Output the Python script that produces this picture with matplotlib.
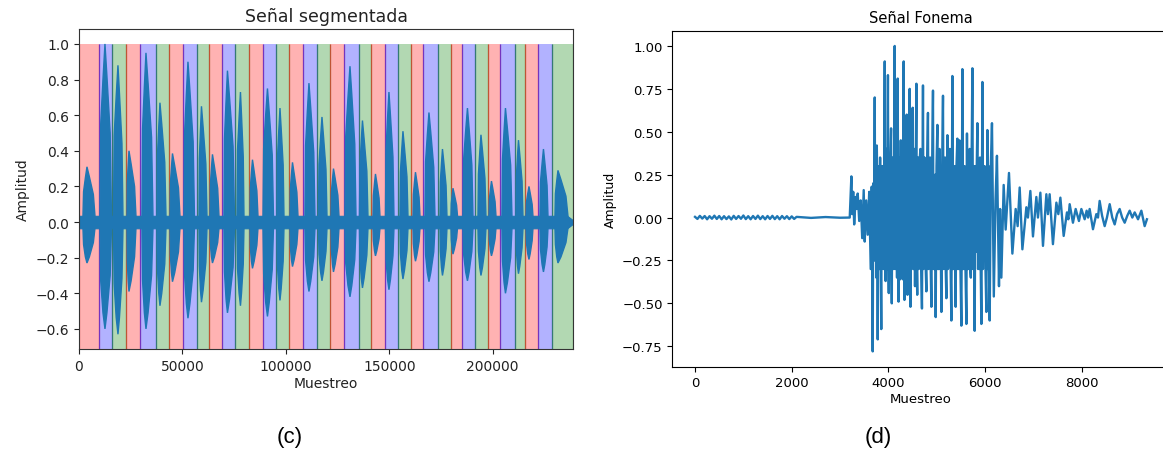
import matplotlib
matplotlib.use('Agg')
import matplotlib.pyplot as plt

# ---- (c) segmented signal ----
# segment boundaries in samples, colours cycle red / blue / green
seg_bounds = [0, 9670, 16100, 22570, 29630, 37080, 43510, 50420, 56900, 62940,
              69270, 75650, 82180, 89090, 95090, 101520, 108430, 114910, 121340,
              128250, 135450, 141300, 147780, 154210, 160640, 166440, 173400,
              179830, 185150, 191430, 197720, 203520, 210770, 215600, 222030,
              228510, 239050]
seg_colors = ['r', 'b', 'g']

# each syllable burst: onset, peak, offset (samples), max and min amplitude
burst_on = [1930, 10150, 16680, 23200, 30450, 37710, 43990, 50760, 58010, 63330,
            70090, 76380, 82660, 88950, 95710, 101990, 109250, 115770, 121820,
            128590, 135600, 142120, 148160, 155170, 161460, 167260, 174510,
            179830, 185630, 192880, 198190, 204480, 211250, 216080, 222850, 230100]
burst_pk = [3870, 12570, 18850, 24170, 32390, 39150, 45200, 52690, 59220, 64530,
            71780, 78070, 83870, 91120, 97170, 103210, 111180, 117470, 123030,
            131010, 137040, 143330, 149850, 156620, 162670, 169190, 175720,
            180800, 187800, 194330, 199400, 206170, 212460, 217530, 224540, 231550]
burst_off = [7730, 15710, 21270, 27550, 35770, 42060, 48820, 55830, 61880, 67680,
             75170, 79760, 86530, 94020, 99100, 105870, 114080, 119890, 125690,
             133910, 139700, 145500, 152270, 159040, 164840, 172090, 177890,
             182980, 190460, 196740, 201580, 209310, 214630, 219460, 226720, 236380]
burst_top = [0.31, 1.00, 0.88, 0.40, 0.95, 0.67, 0.385, 0.90, 0.65, 0.38,
             0.85, 0.73, 0.35, 0.75, 0.64, 0.335, 0.78, 0.59, 0.30,
             0.875, 0.57, 0.27, 0.73, 0.51, 0.28, 0.615, 0.41,
             0.19, 0.64, 0.49, 0.23, 0.64, 0.46, 0.20, 0.41, 0.29]
burst_bot = [-0.23, -0.60, -0.63, -0.39, -0.60, -0.47, -0.335, -0.54, -0.45, -0.23,
             -0.51, -0.47, -0.26, -0.53, -0.44, -0.25, -0.39, -0.33, -0.28,
             -0.42, -0.37, -0.19, -0.38, -0.32, -0.22, -0.335, -0.30,
             -0.18, -0.33, -0.30, -0.19, -0.40, -0.29, -0.21, -0.28, -0.23]

# ---- (d) phoneme signal, turning points (sample, amplitude) ----
quiet_x = [0, 50, 100, 150, 200, 250, 300, 350, 400, 450, 500, 550, 600, 650,
           700, 750, 800, 850, 900, 950, 1000, 1050, 1100, 1150, 1200, 1250,
           1300, 1350, 1400, 1450, 1500, 1550, 1600, 1650, 1700, 1750, 1800,
           1850, 1900, 1950, 2000, 2050, 2100, 2400, 2700, 3000, 3200]
quiet_y = [0.004, -0.008, 0.010, -0.006, 0.009, -0.010, 0.008, -0.007, 0.011,
           -0.008, 0.009, -0.010, 0.008, -0.009, 0.007, -0.011, 0.010, -0.008,
           0.009, -0.007, 0.012, -0.009, 0.008, -0.010, 0.009, -0.008, 0.011,
           -0.009, 0.008, -0.010, 0.009, -0.008, 0.010, -0.009, 0.008, -0.010,
           0.009, -0.007, 0.008, -0.009, 0.007, -0.008, 0.004, -0.002, 0.003,
           -0.001, 0.0]

onset_x = [3234, 3251, 3272, 3292, 3323, 3344, 3365, 3396, 3427, 3458, 3489,
           3510, 3541, 3572, 3603, 3634, 3655]
onset_y = [0.24, 0.02, 0.15, -0.04, 0.12, 0.05, 0.14, -0.02, 0.10, -0.12, 0.16,
           -0.14, 0.10, -0.10, 0.15, -0.30, 0.18]

loud_x = [3675, 3688, 3700, 3717, 3728, 3740, 3750, 3760, 3770, 3779,
          3790, 3800, 3810, 3818, 3828, 3840, 3852, 3862, 3875, 3888,
          3900, 3912, 3924, 3934, 3942, 3952, 3962, 3970, 3980, 3990,
          4000, 4008, 4018, 4030, 4042, 4055, 4063, 4070, 4080, 4090,
          4100, 4110, 4120, 4130, 4139, 4148, 4156, 4165, 4178, 4192,
          4200, 4210, 4219, 4228, 4242, 4256, 4263, 4270, 4285, 4300,
          4316, 4324, 4332, 4341, 4350, 4362, 4378, 4386, 4395, 4403,
          4410, 4425, 4440, 4448, 4456, 4464, 4472, 4488, 4502, 4510,
          4518, 4535, 4550, 4565, 4579, 4587, 4596, 4605, 4615, 4628,
          4640, 4650, 4662, 4678, 4694, 4715, 4725, 4735, 4746, 4758,
          4772, 4785, 4800, 4818, 4829, 4840, 4851, 4862, 4875, 4889,
          4905, 4922, 4931, 4940, 4958, 4968, 4978, 4995, 5013, 5024,
          5035, 5046, 5058, 5068, 5078, 5087, 5096, 5112, 5129, 5140,
          5150, 5161, 5172, 5185, 5199, 5220, 5232, 5245, 5258, 5272,
          5287, 5302, 5323, 5334, 5345, 5356, 5368, 5380, 5391, 5408,
          5426, 5437, 5448, 5459, 5470, 5490, 5509, 5530, 5541, 5552,
          5563, 5575, 5594, 5613, 5625, 5637, 5650, 5665, 5680, 5692,
          5705, 5720, 5737, 5750, 5765, 5784, 5800, 5812, 5825, 5840,
          5855, 5870, 5882, 5895, 5909, 5923, 5944, 5955, 5965, 5977,
          5990, 6008, 6026, 6047, 6060, 6072, 6083, 6095, 6118, 6142]
loud_y = [-0.78, 0.20, -0.25, 0.70, -0.25, 0.30, -0.35, 0.42, 0.15, -0.71,
          0.25, -0.20, 0.30, -0.30, 0.35, -0.25, -0.65, 0.30, -0.20, 0.30,
          -0.30, 0.25, 0.91, -0.25, -0.37, 0.30, 0.40, -0.30, 0.20, 0.83,
          -0.25, -0.44, 0.30, -0.30, 0.35, 0.52, -0.30, -0.50, 0.25, 0.35,
          -0.30, -0.20, 0.30, 1.00, -0.30, -0.27, 0.30, 0.40, -0.35, 0.81,
          0.10, -0.49, 0.35, -0.20, -0.36, 0.45, -0.25, 0.30, -0.30, -0.36,
          0.91, -0.30, -0.48, 0.30, -0.25, 0.30, 0.60, -0.30, -0.45, 0.30,
          0.25, -0.30, 0.75, -0.25, -0.52, 0.30, 0.35, -0.25, 0.64, -0.30,
          -0.30, 0.40, -0.40, 0.30, 0.78, -0.30, -0.45, 0.30, 0.35, -0.30,
          -0.20, 0.35, 0.40, -0.30, -0.53, 0.77, -0.30, -0.25, 0.35, 0.30,
          -0.30, -0.43, 0.30, 0.61, -0.30, -0.22, 0.30, 0.35, -0.30, -0.52,
          0.30, 0.74, -0.30, 0.20, -0.30, 0.25, -0.58, 0.30, 0.54, -0.30,
          -0.30, 0.30, 0.40, -0.30, 0.30, -0.30, -0.55, 0.30, 0.71, -0.30,
          -0.25, 0.30, 0.35, -0.30, -0.47, 0.48, -0.30, -0.25, 0.30, 0.40,
          -0.30, -0.60, 0.825, -0.30, 0.25, -0.30, 0.30, -0.30, -0.52, 0.30,
          0.46, -0.30, 0.25, -0.30, 0.45, -0.30, -0.63, 0.865, -0.30, 0.25,
          -0.30, 0.30, -0.30, -0.62, 0.49, -0.30, 0.30, -0.30, 0.40, -0.30,
          -0.35, 0.30, 0.87, -0.30, 0.30, -0.66, 0.30, -0.20, 0.25, 0.55,
          -0.30, 0.25, -0.30, 0.35, -0.30, -0.62, 0.79, -0.30, 0.25, -0.25,
          0.30, -0.30, -0.55, 0.51, -0.30, 0.30, -0.30, -0.60, 0.30, 0.55]

decay_x = [6180, 6215, 6245, 6287, 6310, 6336, 6384, 6425, 6494, 6564, 6632,
           6673, 6715, 6771, 6853, 6886, 6936, 6990, 7060, 7093, 7143, 7197,
           7267, 7300, 7335, 7403, 7474, 7515, 7557, 7625, 7693, 7722, 7749,
           7817, 7873, 7941, 7991, 8059, 8100, 8130, 8162, 8231, 8300, 8335,
           8369, 8420, 8473, 8520, 8577, 8630, 8680, 8730, 8783, 8835, 8887,
           8940, 8990, 9045, 9094, 9163, 9232, 9300, 9347]
decay_y = [-0.46, 0.10, 0.36, -0.40, 0.05, -0.35, 0.19, -0.07, 0.26, -0.21, 0.05,
           -0.05, 0.175, -0.185, 0.06, 0.0, 0.155, -0.11, 0.12, 0.0, 0.145, -0.165,
           0.136, 0.02, 0.136, -0.155, 0.087, 0.02, 0.116, -0.107, 0.03, -0.01, 0.078,
           -0.03, 0.05, -0.02, 0.05, -0.01, 0.04, 0.0, 0.05, -0.068, 0.02, 0.0,
           0.097, 0.01, -0.05, 0.0, 0.078, 0.0, -0.04, 0.02, 0.05, 0.0, -0.03,
           0.01, 0.04, 0.0, 0.03, -0.01, 0.04, -0.05, -0.01]

blue = '#1f77b4'
txt = '#222222'

fig = plt.figure(figsize=(11.63, 4.6), dpi=100)

# left panel
ax1 = fig.add_axes([0.0679, 0.2391, 0.4252, 0.6957])
ylo, yhi = -0.713, 1.084
top_frac = (1.0 - ylo) / (yhi - ylo)
for i in range(len(seg_bounds) - 1):
    c = seg_colors[i % 3]
    ax1.axvspan(seg_bounds[i], seg_bounds[i + 1], ymin=0, ymax=top_frac,
                facecolor=c, alpha=0.3, lw=0, zorder=0)
    ax1.vlines([seg_bounds[i], seg_bounds[i + 1]], ylo, 1.0, colors=c,
               alpha=0.45, lw=0.9, zorder=0.5)

n = 0.035
ax1.fill_between([0, 236000, 239050], [n, n, 0.008], [-n, -n, -0.008],
                 color=blue, lw=0.8, zorder=2)
for on, pk, off, tp, bt in zip(burst_on, burst_pk, burst_off, burst_top, burst_bot):
    xs = [on, on + 0.15 * (pk - on), on + 0.6 * (pk - on), pk,
          pk + 0.3 * (off - pk), pk + 0.8 * (off - pk), off]
    up = [n, 0.55 * tp, 0.8 * tp, tp, 0.82 * tp, 0.5 * tp, n]
    lo = [-n, 0.55 * bt, 0.85 * bt, bt, 0.85 * bt, 0.5 * bt, -n]
    ax1.fill(xs + xs[::-1], up + lo[::-1], color=blue, lw=1.0, zorder=2)

ax1.set_xlim(0, 239050)
ax1.set_ylim(ylo, yhi)
ax1.set_title('Señal segmentada', fontsize=12.5, color=txt)
ax1.set_xlabel('Muestreo', fontsize=10, color=txt, labelpad=2)
ax1.set_ylabel('Amplitud', fontsize=10, color=txt)
ax1.tick_params(labelsize=10, colors=txt)
for s in ax1.spines.values():
    s.set_color('#333333')

# right panel (cropped on the right like the source figure)
fonema_x = quiet_x + onset_x + loud_x + decay_x
fonema_y = quiet_y + onset_y + loud_y + decay_y
ax2 = fig.add_axes([0.5782, 0.2007, 0.4271, 0.7304])
ax2.plot(fonema_x, fonema_y, color=blue, lw=1.7)
ax2.set_xlim(-467, 9807)
ax2.set_ylim(-0.869, 1.089)
ax2.set_title('Señal Fonema', fontsize=10.5)
ax2.set_xlabel('Muestreo', fontsize=9.5, labelpad=2)
ax2.set_ylabel('Amplitud', fontsize=9)
ax2.tick_params(labelsize=9.5)

fig.text(290 / 1163, 0.048, '(c)', fontsize=16, family='Liberation Sans',
         ha='center', va='center')
fig.text(878 / 1163, 0.048, '(d)', fontsize=16, family='Liberation Sans',
         ha='center', va='center')

fig.savefig('out.png', dpi=100)
